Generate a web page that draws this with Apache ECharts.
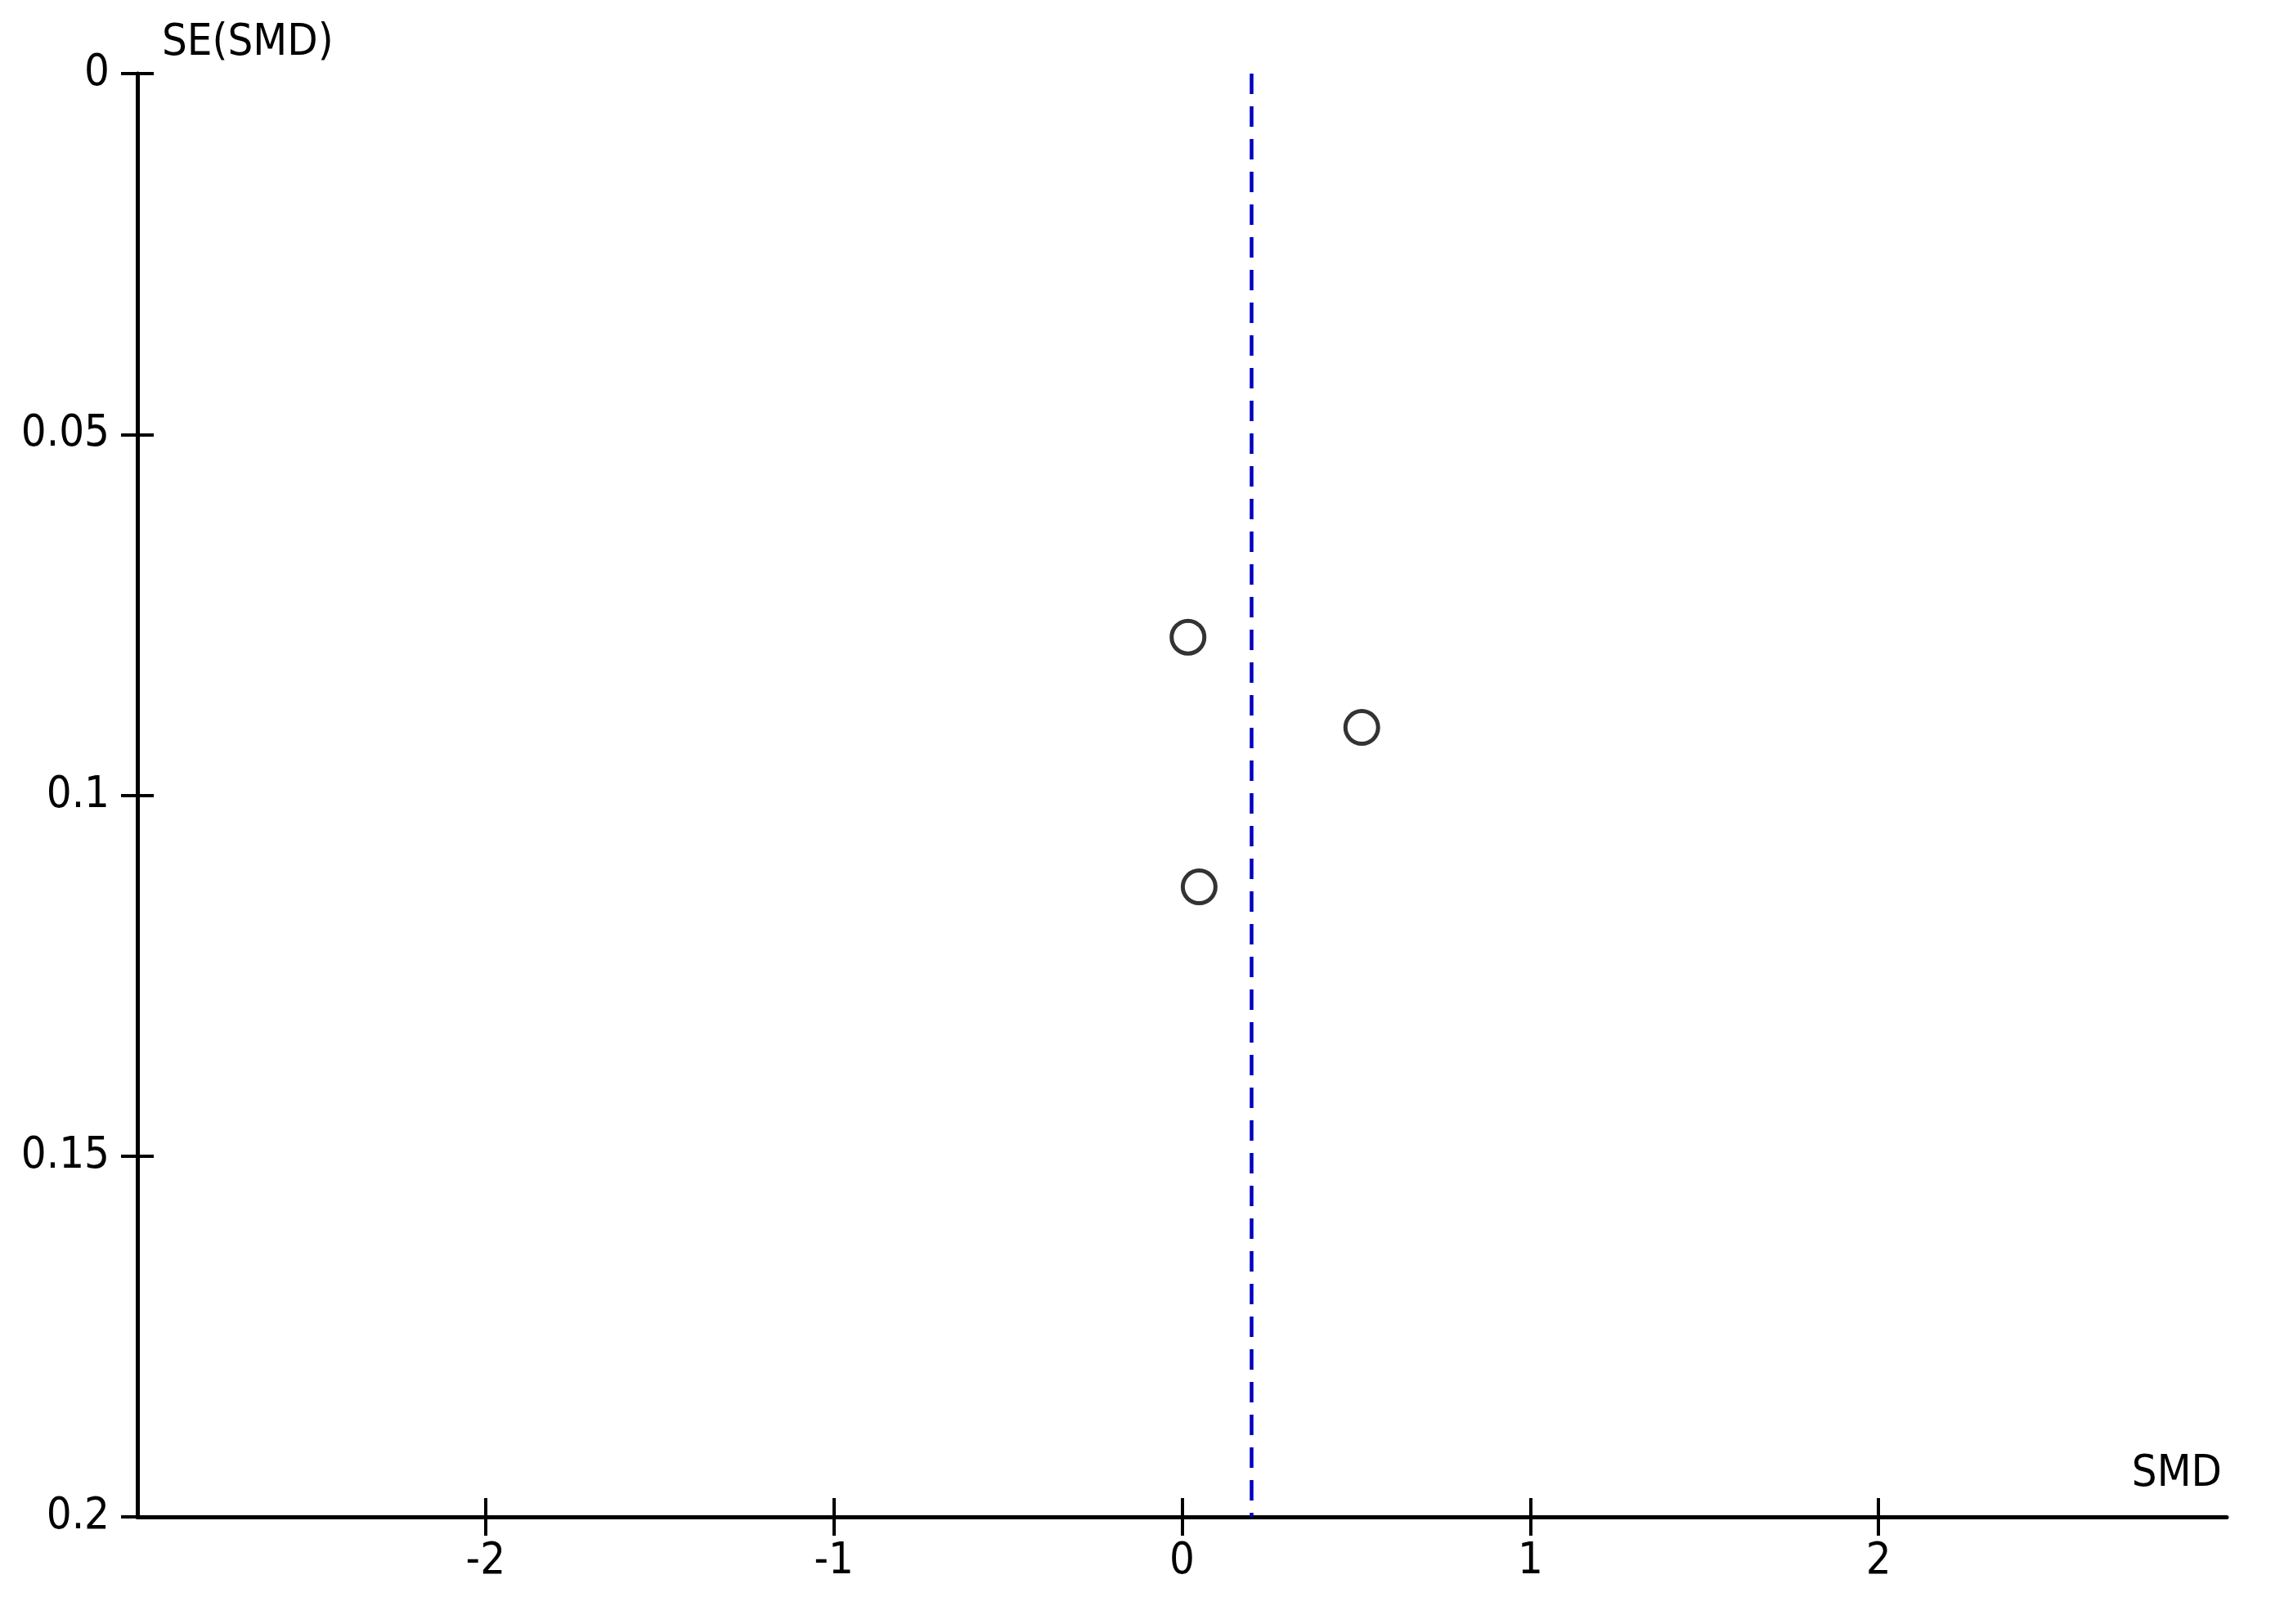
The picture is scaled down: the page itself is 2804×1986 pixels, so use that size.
<!DOCTYPE html>
<html>
<head>
<meta charset="utf-8">
<script src="https://cdn.jsdelivr.net/npm/echarts@6/dist/echarts.min.js"></script>
<style>
  html, body { margin: 0; padding: 0; background: #fff; }
  #chart { width: 2804px; height: 1986px; }
</style>
</head>
<body>
<div id="chart"></div>
<script>
'use strict'
// funnel plot: SMD vs SE(SMD)
var smd = [0.017, 0.516, 0.049]
var se = [0.0781, 0.0906, 0.1127]
var pooled = 0.195
var xTicks = [-2, -1, 0, 1, 2]
var yTicks = [0, 0.05, 0.1, 0.15, 0.2]

var FONT = "'Liberation Sans Narrow', 'DejaVu Sans Condensed', 'Liberation Sans', sans-serif"
var points = smd.map(function(v, i) {
  return [v, se[i]]
})

var gridBox = { left: 168, right: 81, top: 90, bottom: 131 }
var tickStyle = { color: '#000', width: 4 }

function xAxisOf(grid, inside) {
  return {
    type: 'value',
    gridIndex: grid,
    position: 'bottom',
    min: -3,
    max: 3,
    interval: 1,
    axisLine: { show: !inside, onZero: false, lineStyle: { color: '#000', width: 5 } },
    axisTick: { inside: inside, customValues: xTicks, length: 23, lineStyle: tickStyle },
    axisLabel: {
      show: !inside,
      customValues: xTicks,
      margin: 28,
      color: '#000',
      fontSize: 54,
      fontFamily: FONT
    },
    splitLine: { show: false }
  }
}
function yAxisOf(grid, inside) {
  return {
    type: 'value',
    gridIndex: grid,
    position: 'left',
    inverse: true,
    min: 0,
    max: 0.2,
    interval: 0.05,
    axisLine: { show: !inside, onZero: false, lineStyle: { color: '#000', width: 5 } },
    axisTick: { inside: inside, customValues: yTicks, length: 20, lineStyle: tickStyle },
    axisLabel: {
      show: !inside,
      customValues: yTicks,
      margin: 34,
      color: '#000',
      fontSize: 54,
      fontFamily: FONT,
      formatter: function(v) {
        return String(Math.round(v * 100) / 100)
      }
    },
    splitLine: { show: false }
  }
}

var chart = echarts.init(document.getElementById('chart'))
var option = {
  backgroundColor: '#ffffff',
  animation: false,
  // second grid only carries the inner half of the crossing ticks
  grid: [gridBox, Object.assign({}, gridBox)],
  xAxis: [xAxisOf(0, false), xAxisOf(1, true)],
  yAxis: [yAxisOf(0, false), yAxisOf(1, true)],
  graphic: [
    {
      type: 'text',
      left: 198,
      top: 26,
      style: { text: 'SE(SMD)', fill: '#000', fontSize: 54, fontFamily: FONT }
    },
    {
      type: 'text',
      right: 2804 - 2717,
      top: 1776,
      style: { text: 'SMD', fill: '#000', fontSize: 54, fontFamily: FONT }
    }
  ],
  series: [
    {
      type: 'scatter',
      xAxisIndex: 0,
      yAxisIndex: 0,
      data: points,
      symbol: 'circle',
      symbolSize: 40,
      itemStyle: { color: 'rgba(0,0,0,0)', borderColor: '#000', borderWidth: 5 },
      markLine: {
        silent: true,
        symbol: ['none', 'none'],
        label: { show: false },
        lineStyle: { color: '#0000c0', width: 4.5, type: [25, 15] },
        data: [{ xAxis: pooled }]
      }
    }
  ]
}
chart.setOption(option)
</script>
</body>
</html>
